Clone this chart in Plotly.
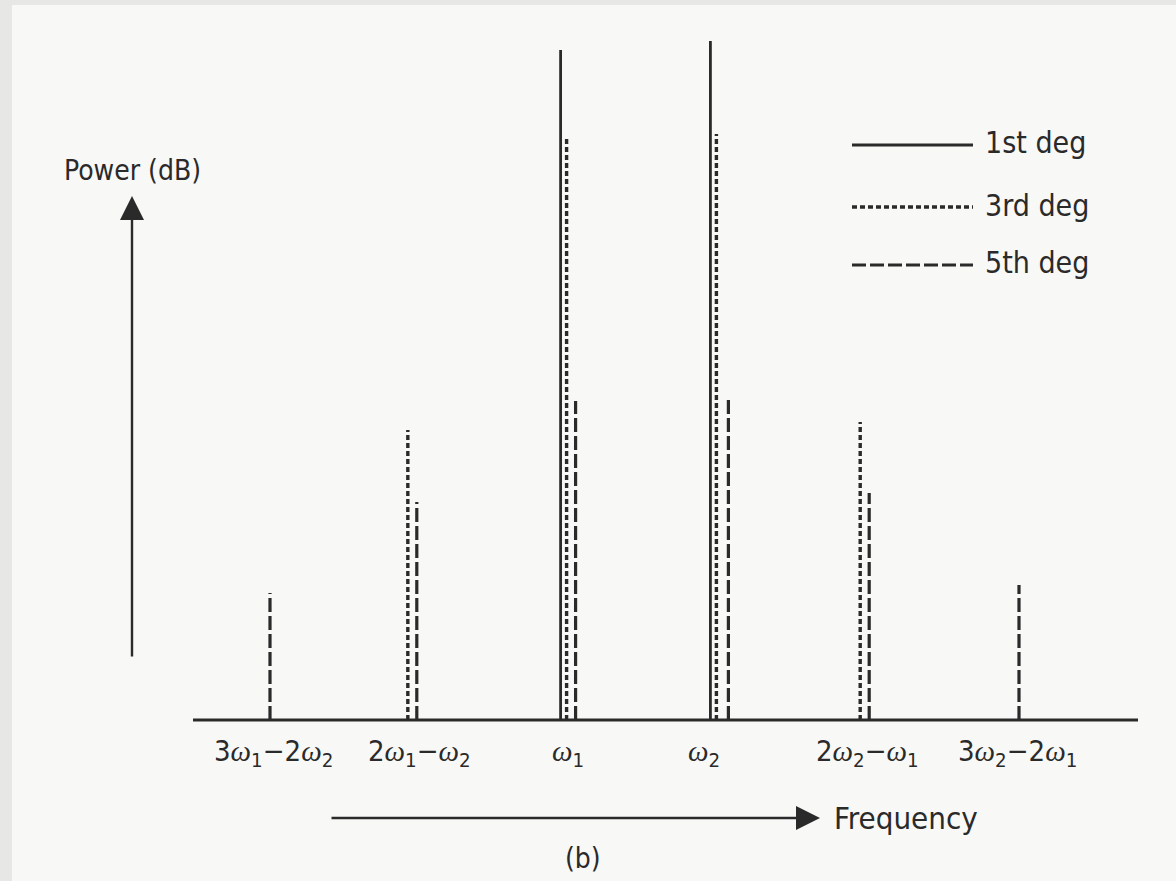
import plotly.graph_objects as go

# ---------------- data ----------------
OM = "<span style=\"font-family:'Liberation Serif',serif;font-style:italic\">ω</span>"
categories = [f"3{OM}<sub>1</sub>−2{OM}<sub>2</sub>", f"2{OM}<sub>1</sub>−{OM}<sub>2</sub>",
              f"{OM}<sub>1</sub>", f"{OM}<sub>2</sub>",
              f"2{OM}<sub>2</sub>−{OM}<sub>1</sub>", f"3{OM}<sub>2</sub>−2{OM}<sub>1</sub>"]
series_names = ["1st deg", "3rd deg", "5th deg"]

# frequency position (category units) of each spectral line
freq_1st = [1.94, 2.94]
freq_3rd = [0.92, 1.98, 2.98, 3.94]
freq_5th = [0.00, 0.98, 2.04, 3.06, 4.00, 5.00]

# power (arbitrary dB units above the baseline)
pow_1st = [67.0, 67.9]
pow_3rd = [29.0, 58.3, 58.6, 29.8]
pow_5th = [12.7, 21.8, 31.9, 32.2, 22.7, 13.5]

# ---------------- styling ----------------
W, H = 1176, 881
INK = "#2a2a2a"
FONT = "Liberation Sans Narrow, DejaVu Sans Condensed, Roboto, sans-serif"
dashes = {"1st deg": "solid", "3rd deg": "5px,3px", "5th deg": "14px,4px"}
widths = {"1st deg": 2.8, "3rd deg": 3.4, "5th deg": 3.2}
label_nudge = [0.02, 1.00, 1.99, 2.90, 3.99, 4.99]  # label centres on the frequency axis


def stems(xs, ys):
    X, Y = [], []
    for x, y in zip(xs, ys):
        X += [x, x, None]
        Y += [0, y, None]
    return X, Y


fig = go.Figure()
for name, xs, ys in zip(series_names,
                        [freq_1st, freq_3rd, freq_5th],
                        [pow_1st, pow_3rd, pow_5th]):
    X, Y = stems(xs, ys)
    fig.add_trace(go.Scatter(x=X, y=Y, mode="lines", name=name, showlegend=False,
                             line=dict(color=INK, width=widths[name], dash=dashes[name]),
                             hoverinfo="skip"))

px_per_unit_x = 149.8
x0_px = 270
xmin = -x0_px / px_per_unit_x
xmax = xmin + W / px_per_unit_x
base_px = 720
ymin = -(H - base_px) / 10.0
ymax = ymin + H / 10.0

shapes = [
    dict(type="rect", xref="paper", yref="paper", x0=12 / W, x1=1, y0=0, y1=1 - 5 / H,
         fillcolor="#f8f8f7", line=dict(width=0), layer="below"),
    dict(type="line", xref="paper", yref="y", x0=193 / W, x1=1138 / W, y0=0, y1=0,
         line=dict(color=INK, width=2.8)),
]

annotations = []
for lab, xp in zip(categories, label_nudge):
    annotations.append(dict(x=xp, y=-3.3, xref="x", yref="y", text=lab, showarrow=False,
                            font=dict(family=FONT, size=29, color=INK),
                            xanchor="center", yanchor="middle"))

leg_y = [145, 207, 265]
for name, ly in zip(series_names, leg_y):
    shapes.append(dict(type="line", xref="paper", yref="paper",
                       x0=852 / W, x1=973 / W, y0=1 - ly / H, y1=1 - ly / H,
                       line=dict(color=INK, width=widths[name], dash=dashes[name])))
    annotations.append(dict(x=983 / W, y=1 - (ly - 2) / H, xref="paper", yref="paper",
                            text=name, showarrow=False, xanchor="left", yanchor="middle",
                            font=dict(family=FONT, size=30, color=INK)))

annotations.append(dict(x=132 / W, y=1 - 196 / H, xref="paper", yref="paper",
                        ax=0, ay=462, axref="pixel", ayref="pixel", text="",
                        showarrow=True, arrowhead=2, arrowsize=2.0, arrowwidth=2.4,
                        arrowcolor=INK, standoff=0))
annotations.append(dict(x=820 / W, y=1 - 818 / H, xref="paper", yref="paper",
                        ax=-490, ay=0, axref="pixel", ayref="pixel", text="",
                        showarrow=True, arrowhead=2, arrowsize=2.0, arrowwidth=2.4,
                        arrowcolor=INK, standoff=0))

annotations.append(dict(x=132 / W, y=1 - 171 / H, xref="paper", yref="paper",
                        text="Power (dB)", showarrow=False, xanchor="center", yanchor="middle",
                        font=dict(family=FONT, size=28, color=INK)))
annotations.append(dict(x=832 / W, y=1 - 818 / H, xref="paper", yref="paper",
                        text="Frequency", showarrow=False, xanchor="left", yanchor="middle",
                        font=dict(family=FONT, size=31, color=INK)))
annotations.append(dict(x=583 / W, y=1 - 858 / H, xref="paper", yref="paper",
                        text="(b)", showarrow=False, xanchor="center", yanchor="middle",
                        font=dict(family=FONT, size=28, color=INK)))

fig.update_layout(
    width=W, height=H, autosize=False,
    margin=dict(l=0, r=0, t=0, b=0, pad=0),
    paper_bgcolor="#e7e7e6", plot_bgcolor="rgba(0,0,0,0)",
    shapes=shapes, annotations=annotations, showlegend=False,
    xaxis=dict(range=[xmin, xmax], visible=False, fixedrange=True),
    yaxis=dict(range=[ymin, ymax], visible=False, fixedrange=True),
)

fig.write_html("out.html")
